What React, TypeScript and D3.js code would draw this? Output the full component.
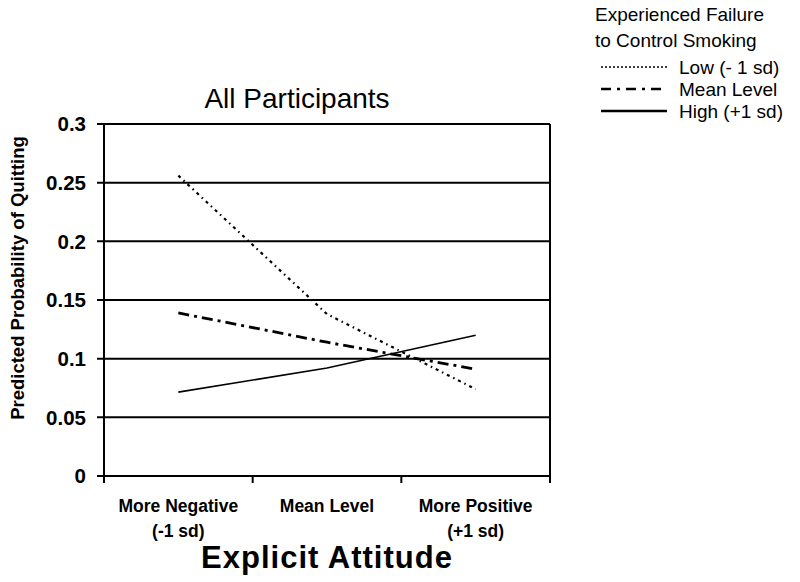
import React from "react";
import * as d3 from "d3";

// Data
const categories = ["More Negative|(-1 sd)", "Mean Level", "More Positive|(+1 sd)"];
const lowValues = [0.256, 0.138, 0.074];
const meanValues = [0.139, 0.114, 0.091];
const highValues = [0.0715, 0.092, 0.12];
const yTicks = [0, 0.05, 0.1, 0.15, 0.2, 0.25, 0.3];

const seriesNames = ["Low (- 1 sd)", "Mean Level", "High (+1 sd)"];
const seriesDash = ["3,4,1.5,4", "11,5,3,5", ""];
const seriesWidth = [2.2, 2.8, 1.6];

const W = 800;
const H = 582;
const margin = { top: 124, right: 250, bottom: 106, left: 104 };

const App = () => {
  const x = d3
    .scaleBand()
    .domain(categories)
    .range([margin.left, W - margin.right])
    .padding(0);
  const y = d3
    .scaleLinear()
    .domain([0, 0.3])
    .range([H - margin.bottom, margin.top]);

  const cx = (c: string) => (x(c) as number) + x.bandwidth() / 2;
  const line = d3
    .line<number>()
    .x((_, i) => cx(categories[i]))
    .y((d) => y(d));

  const series = [lowValues, meanValues, highValues];
  const bold = { fontFamily: "Arial, 'Liberation Sans', sans-serif", fontWeight: 700 };
  const plain = { fontFamily: "Arial, 'Liberation Sans', sans-serif" };
  const x0 = margin.left;
  const x1 = W - margin.right;
  const yb = H - margin.bottom;

  return (
    <svg width={W} height={H} style={{ position: "absolute", left: 0, top: 0, background: "#fff" }}>
      {/* gridlines + y ticks */}
      {yTicks.map((t) => (
        <g key={t}>
          <line x1={x0 - 7} x2={t === 0 ? x0 : x1} y1={y(t)} y2={y(t)} stroke="#000" strokeWidth={2} />
          <text x={x0 - 18} y={y(t)} dy="0.36em" textAnchor="end" fontSize={20.5} style={bold}>
            {t}
          </text>
        </g>
      ))}
      {/* axes frame */}
      <line x1={x0} x2={x0} y1={margin.top} y2={yb} stroke="#000" strokeWidth={2} />
      <line x1={x1} x2={x1} y1={margin.top} y2={yb} stroke="#000" strokeWidth={2} />
      <line x1={x0} x2={x1} y1={yb} y2={yb} stroke="#000" strokeWidth={2} />
      {/* x ticks */}
      {[...categories.map((c) => x(c) as number), x1].map((p, i) => (
        <line key={i} x1={p} x2={p} y1={yb} y2={yb + 7} stroke="#000" strokeWidth={2} />
      ))}
      {categories.map((c) => (
        <text key={c} x={cx(c)} y={512} textAnchor="middle" fontSize={17.5} style={bold}>
          {c.split("|").map((s, i) => (
            <tspan key={i} x={cx(c)} dy={i === 0 ? 0 : 25}>
              {s}
            </tspan>
          ))}
        </text>
      ))}
      {/* series */}
      {series.map((s, i) => (
        <path
          key={i}
          d={line(s) as string}
          fill="none"
          stroke="#000"
          strokeWidth={seriesWidth[i]}
          strokeDasharray={seriesDash[i] || undefined}
        />
      ))}
      {/* titles */}
      <text x={297} y={108} textAnchor="middle" fontSize={28} style={plain}>
        All Participants
      </text>
      <text x={327} y={568} textAnchor="middle" fontSize={31} letterSpacing={1} style={bold}>
        Explicit Attitude
      </text>
      <text
        transform={`translate(24,278) rotate(-90)`}
        textAnchor="middle"
        fontSize={18.5}
        style={bold}
      >
        Predicted Probability of Quitting
      </text>
      {/* legend */}
      <text x={595} y={21} fontSize={19} style={plain}>Experienced Failure</text>
      <text x={595} y={47} fontSize={19} style={plain}>to Control Smoking</text>
      {seriesNames.map((n, i) => (
        <g key={n} transform={`translate(0,${67 + i * 22})`}>
          <line
            x1={601}
            x2={667}
            y1={0}
            y2={0}
            stroke="#000"
            strokeWidth={i === 0 ? 1.5 : 2.5}
            strokeDasharray={i === 0 ? "2,2" : i === 1 ? "10,6,3,6" : undefined}
          />
          <text x={679} y={0} dy="0.36em" fontSize={19} style={plain}>
            {n}
          </text>
        </g>
      ))}
    </svg>
  );
};

export default App;
